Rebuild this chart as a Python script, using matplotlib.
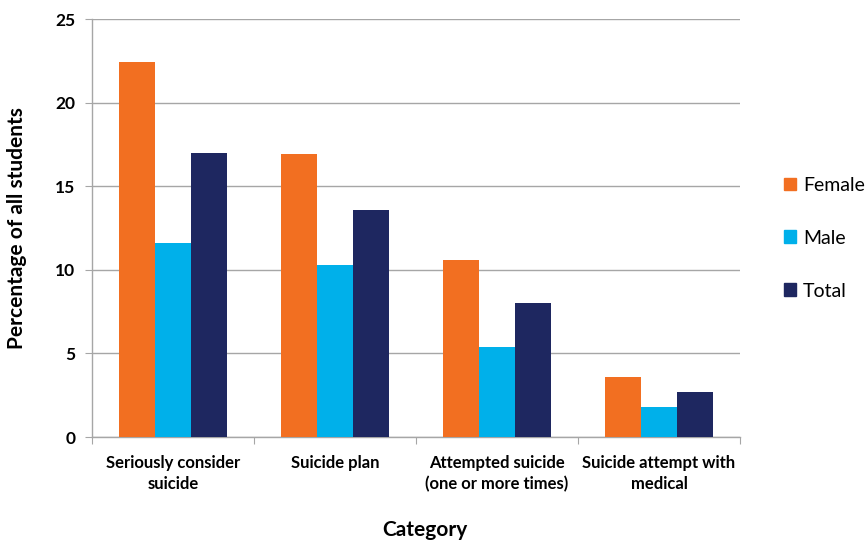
import matplotlib
matplotlib.use("Agg")
import matplotlib.pyplot as plt
import numpy as np
from matplotlib.patches import Patch

plt.rcParams['font.family'] = ['Lato', 'DejaVu Sans']

categories = ["Seriously consider\nsuicide", "Suicide plan",
              "Attempted suicide\n(one or more times)", "Suicide attempt with\nmedical"]
female = [22.4, 16.9, 10.6, 3.6]
male = [11.6, 10.3, 5.4, 1.8]
total = [17.0, 13.6, 8.0, 2.7]
series_names = ["Female", "Male", "Total"]
colors = ["#F26F21", "#00B0EA", "#1E2760"]

fig = plt.figure(figsize=(8.68, 5.4), dpi=100)
ax = fig.add_axes([0.106, 0.1907, 0.7465, 0.7741])

x = np.arange(len(categories)) + 0.5
w = 0.222
for i, (vals, c) in enumerate(zip([female, male, total], colors)):
    ax.bar(x + (i - 1) * w, vals, w, color=c, zorder=3)

ax.set_xlim(0, 4)
ax.set_ylim(0, 25)
ax.set_yticks([0, 5, 10, 15, 20, 25])
ax.yaxis.grid(True, color="#A6A6A6", linewidth=1.0, zorder=0)

for s in ["top", "right"]:
    ax.spines[s].set_visible(False)
for s in ["left", "bottom"]:
    ax.spines[s].set_color("#A6A6A6")
    ax.spines[s].set_linewidth(1.0)

# category ticks sit on the group boundaries, labels in the middle
ax.set_xticks([0, 1, 2, 3, 4])
ax.set_xticklabels([])
ax.set_xticks(x, minor=True)
ax.set_xticklabels(categories, minor=True, fontsize=12, fontweight="bold",
                   linespacing=1.35)
ax.tick_params(axis="x", which="major", length=5, color="#A6A6A6", direction="out")
ax.tick_params(axis="x", which="minor", length=0, pad=13)
ax.tick_params(axis="y", length=5, color="#A6A6A6", labelsize=12.5, pad=7)
for lab in ax.get_yticklabels():
    lab.set_fontweight("bold")

ax.set_ylabel("Percentage of all students", fontsize=15, fontweight="bold")
ax.yaxis.set_label_coords(-0.101, 0.5)
fig.text(0.490, 0.018, "Category", fontsize=15, fontweight="bold",
         ha="center", va="center")

handles = [Patch(facecolor=c, edgecolor=c) for c in colors]
fig.legend(handles, series_names, loc="center left", bbox_to_anchor=(0.894, 0.559),
           frameon=False, fontsize=14, handlelength=0.62, handleheight=0.62,
           handletextpad=0.38, labelspacing=1.85, borderaxespad=0)

fig.savefig("out.png", dpi=100)
